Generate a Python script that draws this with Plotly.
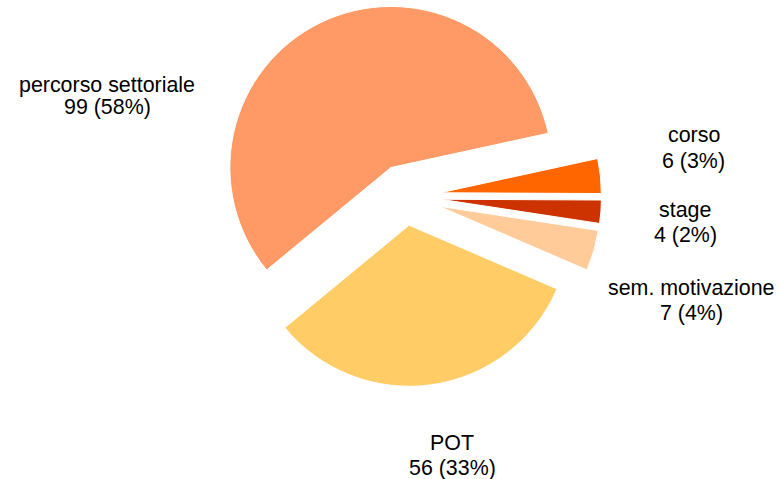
import plotly.graph_objects as go

categories = ["percorso settoriale", "POT", "sem. motivazione", "stage", "corso"]
values = [99, 56, 7, 4, 6]
colors = ["#FF9966", "#FFCC66", "#FFCC99", "#CC3300", "#FF6600"]
pulls = [0.2, 0.18, 0.22, 0.22, 0.22]

W, H = 779, 479
FS = 21.4
# label line centres in pixel space (layout only): x, y of line 1, y of line 2
label_pos = {
    "percorso settoriale": (107.5, 84.5, 107.5),
    "POT": (452, 443, 468),
    "sem. motivazione": (691, 288, 313),
    "stage": (685, 210, 235),
    "corso": (693.5, 135, 161),
}

total = sum(values)

fig = go.Figure()
fig.add_trace(go.Pie(
    labels=categories,
    values=values,
    sort=False,
    direction="counterclockwise",
    rotation=-129.5,
    pull=pulls,
    marker=dict(colors=colors, line=dict(color="white", width=1)),
    textinfo="none",
    hoverinfo="label+value+percent",
    showlegend=False,
    domain=dict(x=[208 / W, 602 / W], y=[1 - 393 / H, 1 - 0 / H]),
))

for cat, v in zip(categories, values):
    px, py1, py2 = label_pos[cat]
    pct = round(100 * v / total)
    for txt, py in ((cat, py1), (f"{v} ({pct}%)", py2)):
        fig.add_annotation(
            x=px / W, y=1 - py / H, xref="paper", yref="paper",
            text=txt,
            showarrow=False, xanchor="center", yanchor="middle", align="center",
            font=dict(family="Liberation Sans, Arial, sans-serif", size=FS, color="#000000"),
        )

fig.update_layout(
    width=W, height=H,
    margin=dict(l=0, r=0, t=0, b=0),
    paper_bgcolor="white",
    plot_bgcolor="white",
)

fig.write_html(
    "out.html",
    config={"displayModeBar": False},
    post_script="document.body.style.margin='0';document.body.style.overflow='hidden';",
)
